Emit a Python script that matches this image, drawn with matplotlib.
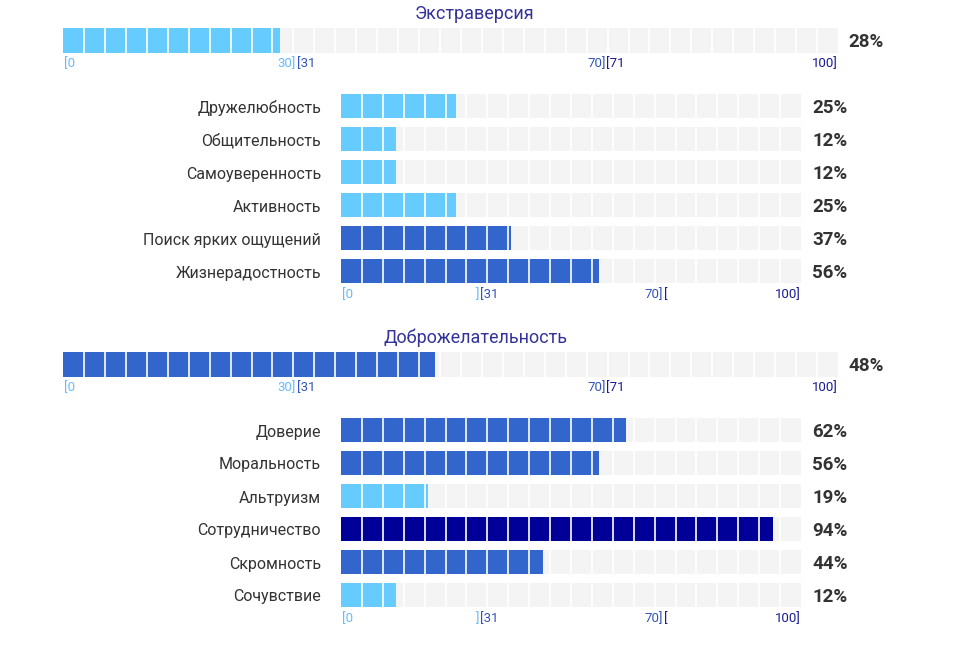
import matplotlib
matplotlib.use("Agg")
import matplotlib.pyplot as plt

plt.rcParams['font.family'] = ['Roboto', 'DejaVu Sans']

# data
titles = ['Экстраверсия', 'Доброжелательность']
totals = [28, 48]
labels = [
    ['Дружелюбность', 'Общительность', 'Самоуверенность', 'Активность',
     'Поиск ярких ощущений', 'Жизнерадостность'],
    ['Доверие', 'Моральность', 'Альтруизм', 'Сотрудничество',
     'Скромность', 'Сочувствие'],
]
values = [
    [25, 12, 12, 25, 37, 56],
    [62, 56, 19, 94, 44, 12],
]
top_ticks = [('[0', 0, 'left', 0), ('30]', 30, 'right', 0), ('[31', 30, 'left', 1),
             ('70]', 70, 'right', 1), ('[71', 70, 'left', 2), ('100]', 100, 'right', 2)]
sub_ticks = [('[0', 0, 'left', 0), (']', 30, 'right', 0), ('[31', 30, 'left', 1),
             ('70]', 70, 'right', 1), ('[', 70, 'left', 2), ('100]', 100, 'right', 2)]

LIGHT, MID, DARK = '#66CCFF', '#3366CC', '#000099'
TICK_COLORS = ['#66BBFF', '#3355BB', '#1A1A99']
BG = '#F4F4F4'
TEXT = '#333333'
TITLE = '#333399'

W, H = 969, 647
fig = plt.figure(figsize=(W / 100, H / 100), dpi=100)


def px_axes(left, top, width, height):
    return fig.add_axes([left / W, 1 - (top + height) / H, width / W, height / H])


def color_for(v):
    if v <= 30:
        return LIGHT
    if v <= 70:
        return MID
    return DARK


def draw_ticks(ax, ticks, dy):
    for txt, x, ha, c in ticks:
        ax.annotate(txt, xy=(x, 1), xycoords=('data', 'axes fraction'),
                    xytext=(1 if ha == 'left' else 0, dy), textcoords='offset pixels',
                    ha=ha, va='center', fontsize=9.5, color=TICK_COLORS[c],
                    annotation_clip=False)


def segments(ax, n, ymin, ymax):
    for i in range(1, n):
        ax.vlines(i * 100 / n, ymin, ymax, color='white', lw=1.2, zorder=3)


block_tops = [0, 324]
for b in range(2):
    y0 = block_tops[b]
    fig.text(475 / W, 1 - (y0 + 14) / H, titles[b], ha='center', va='center',
             fontsize=13, color=TITLE)

    # overall bar
    ax = px_axes(63, y0 + 28, 775, 25)
    ax.set_xlim(0, 100)
    ax.set_ylim(-0.5, 0.5)
    ax.barh(0, 100, height=1, color=BG, zorder=1)
    ax.barh(0, totals[b], height=1, color=color_for(totals[b]), zorder=2)
    segments(ax, 37, -0.5, 0.5)
    ax.axis('off')
    ax.annotate(f'{totals[b]}%', xy=(100, 0), xytext=(10, -1.5), textcoords='offset pixels',
                ha='left', va='center', fontsize=13.5, fontweight='bold', color=TEXT,
                annotation_clip=False)
    ticks_ax = px_axes(63, y0 + 53, 775, 1)
    ticks_ax.set_xlim(0, 100)
    ticks_ax.axis('off')
    draw_ticks(ticks_ax, top_ticks, -11)

    # facets
    n = len(values[b])
    ax = px_axes(341, y0 + 89.5, 460, 33 * n)
    ax.set_xlim(0, 100)
    ax.set_ylim(n - 0.5, -0.5)
    rows = list(range(n))
    bh = 24 / 33
    ax.barh(rows, [100] * n, height=bh, color=BG, zorder=1)
    ax.barh(rows, values[b], height=bh, color=[color_for(v) for v in values[b]], zorder=2)
    for r in rows:
        segments(ax, 22, r - bh / 2, r + bh / 2)
        ax.annotate(labels[b][r], xy=(0, r), xytext=(-20, -2), textcoords='offset pixels',
                    ha='right', va='center', fontsize=11.5, color=TEXT, annotation_clip=False)
        ax.annotate(f'{values[b][r]}%', xy=(100, r), xytext=(11, -2), textcoords='offset pixels',
                    ha='left', va='center', fontsize=13.5, fontweight='bold', color=TEXT,
                    annotation_clip=False)
    ax.axis('off')
    ticks_ax = px_axes(341, y0 + 89.5 + 33 * n - 4.5, 460, 1)
    ticks_ax.set_xlim(0, 100)
    ticks_ax.axis('off')
    draw_ticks(ticks_ax, sub_ticks, -12)

fig.savefig('out.png', dpi=100)
